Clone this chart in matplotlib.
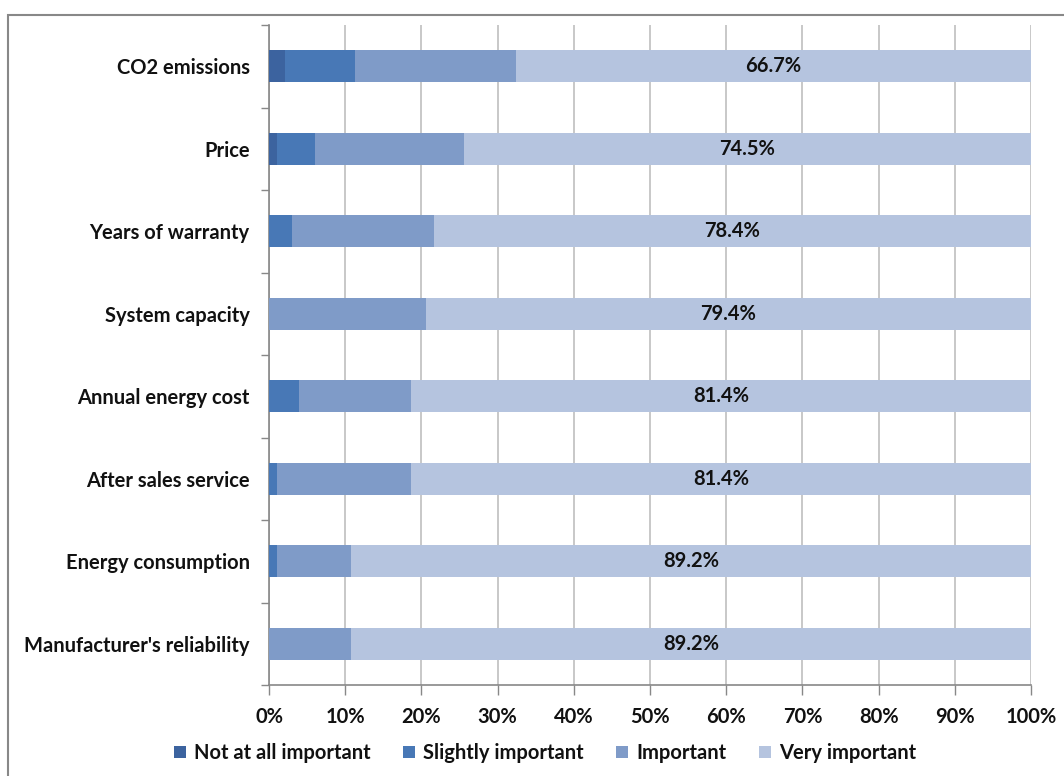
import matplotlib
matplotlib.use("Agg")
import matplotlib.pyplot as plt
from matplotlib.patches import Rectangle
from matplotlib.ticker import FixedLocator, PercentFormatter
import numpy as np

plt.rcParams["font.family"] = ["Lato", "DejaVu Sans"]
plt.rcParams["font.weight"] = "bold"

# data, top to bottom (percent of respondents)
categories = [
    "CO2 emissions", "Price", "Years of warranty", "System capacity",
    "Annual energy cost", "After sales service", "Energy consumption",
    "Manufacturer's reliability",
]
not_at_all = [2.1, 1.1, 0.0, 0.0, 0.0, 0.0, 0.0, 0.0]
slightly = [9.1, 4.9, 3.0, 0.0, 4.0, 1.1, 1.1, 0.0]
important = [20.8, 19.6, 18.6, 20.6, 14.6, 17.5, 9.7, 10.8]
very = [66.7, 74.5, 78.4, 79.4, 81.4, 81.4, 89.2, 89.2]

series = [
    ("Not at all important", not_at_all, "#3c639f"),
    ("Slightly important", slightly, "#4878b6"),
    ("Important", important, "#7f9bc8"),
    ("Very important", very, "#b5c4df"),
]

FS = 14.5

# 100% stacked, like the spreadsheet chart
totals = np.sum([s[1] for s in series], axis=0)

fig = plt.figure(figsize=(10.64, 7.76), dpi=100)
fig.patches.append(Rectangle((8 / 1064, -0.1), 1.2, 1.1 - 15 / 776,
                             transform=fig.transFigure, fill=False,
                             edgecolor="#888888", linewidth=1.5))

ax = fig.add_axes([269 / 1064, 1 - 685 / 776, 762 / 1064, 660 / 776])
y = np.arange(len(categories))
left = np.zeros(len(categories))
for name, vals, color in series:
    w = np.array(vals) / totals * 100
    ax.barh(y, w, left=left, height=0.39, color=color, label=name, zorder=3)
    left += w

# labels on the "very important" segment
vw = np.array(very) / totals * 100
for yi, v, start in zip(y, very, 100 - vw):
    ax.text(start + (100 - start) / 2, yi, f"{v:.1f}%", ha="center", va="center",
            fontsize=FS, fontweight="bold", color="#111111", zorder=4)

ax.set_xlim(0, 100)
ax.set_ylim(len(categories) - 0.5, -0.5)
ax.set_xticks(np.arange(0, 101, 10))
ax.xaxis.set_major_formatter(PercentFormatter(decimals=0))
ax.set_yticks(y)
ax.set_yticklabels(categories)
ax.yaxis.set_minor_locator(FixedLocator(np.arange(-0.5, len(categories), 1.0)))
ax.tick_params(axis="y", which="major", length=0, pad=14, labelsize=FS,
               labelcolor="#111111")
ax.tick_params(axis="y", which="minor", length=6, color="#888888", width=1)
ax.tick_params(axis="x", length=7, color="#888888", width=1, pad=9, labelsize=FS,
               labelcolor="#111111")
ax.grid(axis="x", color="#c4c4c4", linewidth=1.3, zorder=0)

for side in ("top", "right"):
    ax.spines[side].set_visible(False)
for side in ("left", "bottom"):
    ax.spines[side].set_color("#888888")
    ax.spines[side].set_linewidth(1.2)

fig.legend(loc="center", bbox_to_anchor=(545 / 1064, 1 - 753 / 776), ncol=4,
           frameon=False, fontsize=FS, handlelength=0.6, handleheight=0.6,
           handletextpad=0.4, columnspacing=1.6, labelcolor="#111111")

fig.savefig("out.png", dpi=100)
